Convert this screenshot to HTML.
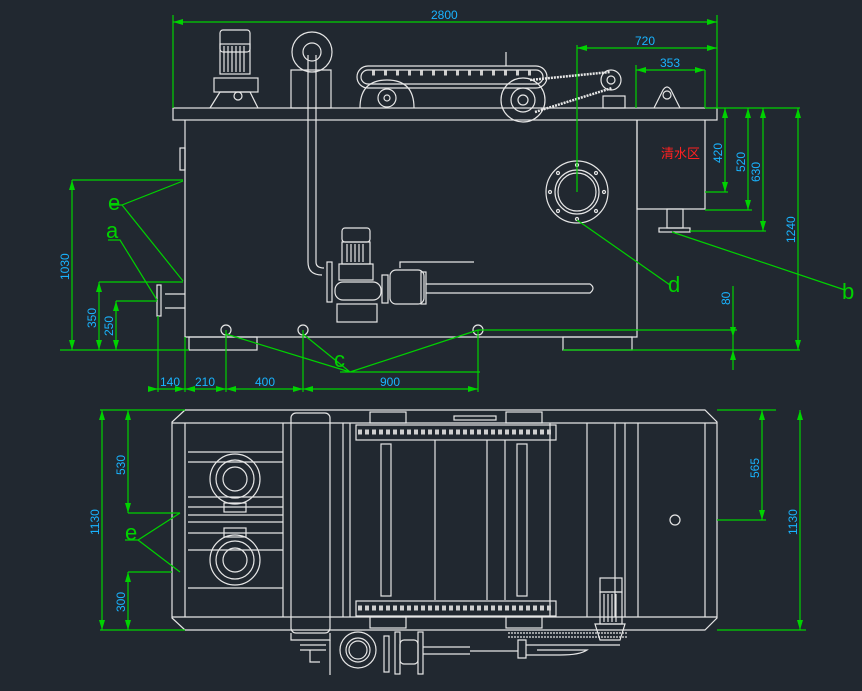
<!DOCTYPE html>
<html><head><meta charset="utf-8"><style>
html,body{margin:0;padding:0;background:#212830;}
svg{display:block}
.w{stroke:#e6e6e6;fill:none;stroke-width:1.2}
.g{stroke:#00d200;fill:none;stroke-width:1.2}
.gf{fill:#00d200;stroke:none}
.t{fill:#19b4ff;font-family:"Liberation Sans",sans-serif;font-size:12px}
.l{fill:#00d200;font-family:"Liberation Sans",sans-serif;font-size:22px}
</style></head><body>
<svg width="862" height="691" viewBox="0 0 862 691" xmlns="http://www.w3.org/2000/svg">
<rect width="862" height="691" fill="#212830"/>
<g class="w">
<rect x="173" y="108" width="544" height="12"/>
<path d="M185 120 V337 H637 V120"/>
<path d="M637 120 V209 H705 V120"/>
<rect x="180" y="148" width="5" height="22"/>
<rect x="189" y="337" width="68" height="13"/>
<rect x="563" y="337" width="69" height="13"/>
<path d="M185 294 H165 M185 308 H165"/><rect x="157" y="285" width="4" height="31"/>
<rect x="667" y="209" width="16" height="19"/><rect x="659" y="228" width="31" height="4"/>
<circle cx="226" cy="330" r="5"/><circle cx="303" cy="330" r="5"/><circle cx="478" cy="330" r="5"/>
<rect x="220" y="30" width="30" height="22" rx="3"/>
<rect x="220" y="44" width="30" height="30"/>
<path d="M224 46 V72 M228 46 V72 M232 46 V72 M236 46 V72 M240 46 V72 M244 46 V72"/>
<rect x="214" y="78" width="44" height="14"/>
<path d="M210 108 L220 92 H250 L258 108"/><circle cx="238" cy="96" r="4"/>
<circle cx="312" cy="52" r="20"/><circle cx="312" cy="52" r="9"/>
<rect x="291" y="70" width="40" height="38"/>
<path d="M308 55 V262 Q308 275 322 275 M316 55 V262 Q316 268 324 268"/>
<rect x="342" y="228" width="28" height="14" rx="3"/>
<rect x="342" y="242" width="28" height="22"/>
<path d="M347 244 V262 M351 244 V262 M355 244 V262 M359 244 V262 M363 244 V262"/>
<rect x="339" y="264" width="34" height="16"/>
<rect x="335" y="282" width="46" height="18" rx="8"/>
<rect x="337" y="304" width="40" height="18"/>
<rect x="327" y="262" width="5" height="40"/>
<rect x="382" y="275" width="6" height="28"/>
<rect x="390" y="270" width="34" height="34" rx="6"/>
<path d="M400 268 V262 H474"/>
<rect x="421" y="272" width="5" height="32"/>
<path d="M426 284 H590 Q596 288 590 293 H426"/>
<rect x="357" y="66" width="190" height="22" rx="11"/>
<rect x="361" y="70" width="182" height="14" rx="7"/>
<path d="M372 73 H540" stroke-dasharray="3 9" stroke-width="5" stroke="#cfcfcf"/>
<path d="M360 108 Q360 80 387 80 Q414 80 414 108"/>
<circle cx="387" cy="98" r="9"/><circle cx="387" cy="98" r="3"/>
<circle cx="523" cy="100" r="22"/><circle cx="523" cy="100" r="12"/><circle cx="523" cy="100" r="5"/>
<path d="M530 80 L610 72 M535 112 L612 88" stroke-dasharray="2 1" stroke-width="2.5"/>
<circle cx="611" cy="80" r="10"/><circle cx="611" cy="80" r="4"/>
<rect x="603" y="96" width="22" height="12"/>
<path d="M506 66 V52"/>
<path d="M654 108 L663 90 Q667 84 671 90 L680 108"/><circle cx="667" cy="95" r="4"/>
<circle cx="577" cy="192" r="31"/><circle cx="577" cy="192" r="22"/><circle cx="577" cy="192" r="19"/>
<circle cx="577" cy="165" r="1.5"/><circle cx="577" cy="219" r="1.5"/><circle cx="550" cy="192" r="1.5"/><circle cx="604" cy="192" r="1.5"/>
<circle cx="558" cy="173" r="1.5"/><circle cx="596" cy="173" r="1.5"/><circle cx="558" cy="211" r="1.5"/><circle cx="596" cy="211" r="1.5"/>
</g>
<text x="661" y="158" fill="#ff2020" font-family="'Noto Sans CJK SC',sans-serif" font-size="13">清水区</text>
<g class="g">
<path d="M173 108 V15 M717 108 V15 M173 22 H717"/>
<path d="M577 192 V45 M577 48 H717"/>
<path d="M636 108 V65 M636 70 H705 M705 70 V108"/>
<path d="M705 108 H800 M705 192 H728 M705 210 H752 M690 231 H766 M563 350 H800"/>
<path d="M725 108 V192 M748 108 V210 M763 108 V231 M798 108 V350"/>
<path d="M733 286 V370 M478 330 H737 M733 337 V350"/>
<path d="M72 180 H183 M72 180 V350 M99 282 H183 M99 282 V350 M116 301 H157 M116 301 V350 M60 350 H189"/>
<path d="M158 316 V392 M185 337 V392 M226 330 V392 M303 330 V392 M478 330 V392 M150 389 H478"/>
<path d="M110 205 H122 L183 181 M122 205 L183 281 M108 240 H120 L157 300"/>
<path d="M226 334 L350 372 M303 334 L350 372 M478 330 L350 372 M340 372 H480"/>
<path d="M577 220 L670 285 M672 232 L845 290"/>
</g>
<g class="gf">
<path d="M173 22 l10 -3 v6z M717 22 l-10 -3 v6z M577 48 l10 -3 v6z M717 48 l-10 -3 v6z M636 70 l10 -3 v6z M705 70 l-10 -3 v6z"/>
<path d="M725 108 l-3 10 h6z M725 192 l-3 -10 h6z M748 108 l-3 10 h6z M748 210 l-3 -10 h6z M763 108 l-3 10 h6z M763 231 l-3 -10 h6z M798 108 l-3 10 h6z M798 350 l-3 -10 h6z"/>
<path d="M733 337 l-3 -10 h6z M733 350 l-3 10 h6z"/>
<path d="M72 180 l-3 10 h6z M72 350 l-3 -10 h6z M99 282 l-3 10 h6z M99 350 l-3 -10 h6z M116 301 l-3 10 h6z M116 350 l-3 -10 h6z"/>
<path d="M158 389 l-10 -3 v6z M185 389 l-10 -3 v6z M185 389 l10 -3 v6z M226 389 l-10 -3 v6z M226 389 l10 -3 v6z M303 389 l-10 -3 v6z M303 389 l10 -3 v6z M478 389 l-10 -3 v6z"/>
</g>
<g class="t">
<text x="431" y="19">2800</text><text x="635" y="45">720</text><text x="660" y="67">353</text>
<text transform="translate(722,163) rotate(-90)">420</text>
<text transform="translate(745,172) rotate(-90)">520</text>
<text transform="translate(760,182) rotate(-90)">630</text>
<text transform="translate(795,243) rotate(-90)">1240</text>
<text transform="translate(730,305) rotate(-90)">80</text>
<text transform="translate(69,280) rotate(-90)">1030</text>
<text transform="translate(96,328) rotate(-90)">350</text>
<text transform="translate(113,336) rotate(-90)">250</text>
<text x="160" y="386">140</text><text x="195" y="386">210</text><text x="255" y="386">400</text><text x="380" y="386">900</text>
</g>
<g class="l"><text x="108" y="210">e</text><text x="106" y="238">a</text><text x="334" y="367">c</text><text x="668" y="292">d</text><text x="842" y="299">b</text></g>
<g class="w">
<path d="M185 410 H705 L717 422 V618 L705 630 H185 L172 618 V422 Z"/>
<path d="M172 423 H717 M172 617 H717 M185 423 V617 M705 423 V617"/>
<path d="M283 423 V617 M188 452 H283 M188 462 H283 M188 497 H283 M188 507 H283 M188 515 H283 M188 522 H283 M188 533 H283 M188 550 H283 M188 588 H283"/>
<circle cx="235" cy="479" r="25"/><circle cx="235" cy="479" r="19"/><circle cx="235" cy="479" r="12"/>
<circle cx="235" cy="560" r="25"/><circle cx="235" cy="560" r="19"/><circle cx="235" cy="560" r="12"/>
<rect x="224" y="503" width="22" height="9"/><rect x="224" y="528" width="22" height="9"/>
<rect x="291" y="413" width="39" height="220" rx="5"/>
<path d="M343 423 V617 M350 423 V617 M435 440 V600 M487 440 V600 M505 440 V600 M550 423 V617 M587 423 V617 M615 423 V617 M625 423 V617 M638 423 V617"/>
<rect x="356" y="425" width="200" height="15"/><rect x="356" y="601" width="200" height="15"/>
<path d="M358 432 H554 M358 608 H554" stroke-dasharray="4 3" stroke-width="5" stroke="#cfcfcf"/>
<rect x="370" y="412" width="36" height="11"/><rect x="506" y="412" width="36" height="11"/>
<rect x="370" y="617" width="36" height="11"/><rect x="506" y="617" width="36" height="11"/>
<rect x="454" y="416" width="42" height="4"/>
<rect x="381" y="444" width="10" height="152"/><rect x="517" y="444" width="10" height="152"/>
<circle cx="675" cy="520" r="5"/>
<rect x="600" y="578" width="22" height="14"/><rect x="600" y="592" width="22" height="32"/>
<path d="M604 594 V622 M608 594 V622 M612 594 V622 M616 594 V622"/>
<path d="M595 624 H625 L620 640 H600 Z"/>
<path d="M508 633 H628 M508 637 H628" stroke-dasharray="2 1"/>
<path d="M291 633 V640 H330 V633"/>
<circle cx="358" cy="650" r="18"/><circle cx="358" cy="650" r="12"/><circle cx="358" cy="650" r="9"/>
<path d="M300 645 H326 M300 650 H326 M310 650 V662 H320 M330 640 V675"/>
<rect x="384" y="636" width="5" height="36"/><rect x="395" y="632" width="5" height="42"/>
<rect x="400" y="640" width="18" height="24" rx="4"/><rect x="418" y="632" width="5" height="42"/>
<path d="M423 647 H470 M423 654 H470 M470 651 H518 M518 640 V658 H526 V640 Z M526 645 H620 M537 650 H587 Q580 655 560 655 H526"/>
</g>
<g class="g">
<path d="M100 410 H185 M100 630 H185 M102 410 V630 M128 410 V513 M128 513 H180 M128 572 V630 M128 572 H172"/>
<path d="M717 410 H776 M717 520 H766 M762 410 V520 M717 630 H806 M800 410 V630"/>
<path d="M125 540 H138 L180 513 M138 540 L180 572"/>
</g>
<g class="gf">
<path d="M102 410 l-3 10 h6z M102 630 l-3 -10 h6z M128 410 l-3 10 h6z M128 513 l-3 -10 h6z M128 572 l-3 10 h6z M128 630 l-3 -10 h6z"/>
<path d="M762 410 l-3 10 h6z M762 520 l-3 -10 h6z M800 410 l-3 10 h6z M800 630 l-3 -10 h6z"/>
</g>
<g class="t">
<text transform="translate(99,535) rotate(-90)">1130</text>
<text transform="translate(125,475) rotate(-90)">530</text>
<text transform="translate(125,612) rotate(-90)">300</text>
<text transform="translate(759,478) rotate(-90)">565</text>
<text transform="translate(797,535) rotate(-90)">1130</text>
</g>
<g class="l"><text x="125" y="540">e</text></g>
</svg>
</body></html>
